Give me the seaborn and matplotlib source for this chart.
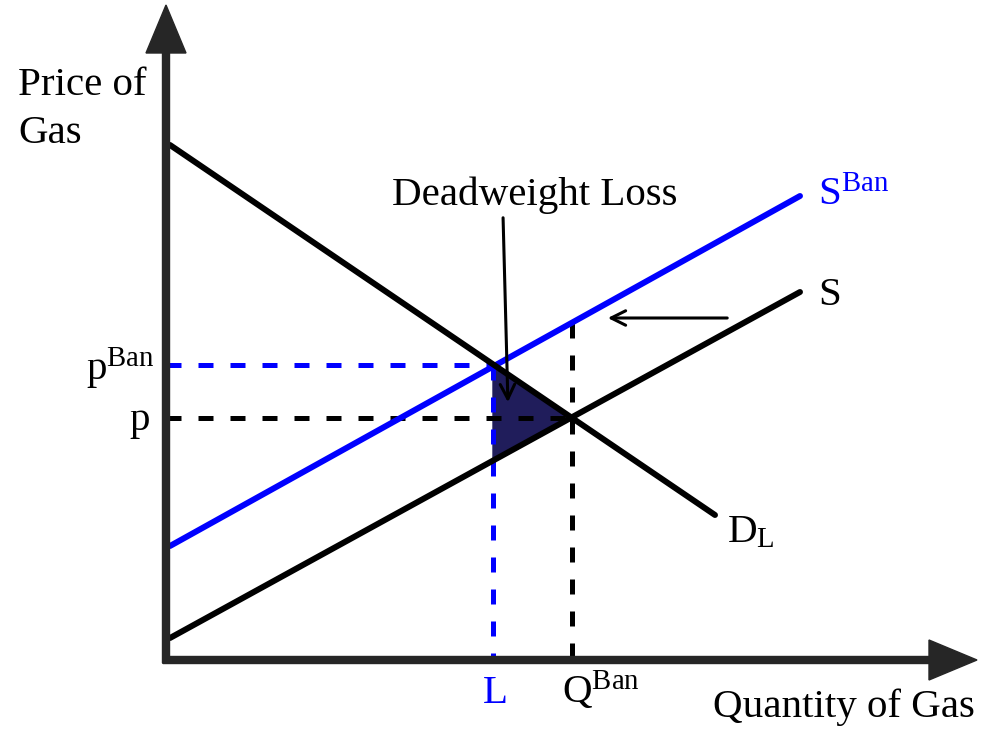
import seaborn as sns
import matplotlib.pyplot as plt
import pandas as pd

## curve end points (quantity, price) measured from the origin
x_demand = [4, 549]
y_demand = [515, 145]
x_supply = [4, 634]
y_supply = [22, 368]
x_supply_ban = [4, 634]
y_supply_ban = [114, 464]

## equilibrium values
q_L = 327
q_ban = 406
p_eq = 242
p_ban = 295
p_low = 200   # supply price at L (bottom of the triangle)
p_ban_at_q = 337  # shifted supply price at Q^Ban

## axis extents
x_max = 811
y_max = 655

sns.set_theme(style='white')
plt.rcParams['font.family'] = ['Liberation Serif', 'DejaVu Serif']
plt.rcParams['mathtext.fontset'] = 'custom'
plt.rcParams['mathtext.rm'] = 'Liberation Serif'
plt.rcParams['mathtext.it'] = 'Liberation Serif'
plt.rcParams['text.color'] = 'black'

fig = plt.figure(figsize=(10, 7.29), dpi=100)
ax = fig.add_axes([0, 0, 1, 1])
ax.set_xlim(-166, 834)
ax.set_ylim(-69, 660)
ax.axis('off')

axis_col = '#262626'
blue = '#0000ff'

## dead weight loss triangle
ax.fill([q_L, q_L, q_ban], [p_ban, p_low, p_eq], color='#201d5b', zorder=1)

## dashed guides
ax.plot([0, q_L], [p_ban, p_ban], color=blue, lw=3.6, dashes=(3, 3.4), zorder=2)
ax.plot([q_L, q_L], [p_ban, 0], color=blue, lw=3.6, dashes=(3, 3.4), zorder=2)
ax.plot([0, q_ban], [p_eq, p_eq], color='black', lw=3.6, dashes=(3, 3.4), zorder=2)
ax.plot([q_ban, q_ban], [p_ban_at_q, 0], color='black', lw=3.6, dashes=(3, 3.4), zorder=2)

## curves
df_d = pd.DataFrame({'q': x_demand, 'p': y_demand})
df_s = pd.DataFrame({'q': x_supply, 'p': y_supply})
df_sb = pd.DataFrame({'q': x_supply_ban, 'p': y_supply_ban})
sns.lineplot(data=df_sb, x='q', y='p', ax=ax, color=blue, lw=4.3, zorder=3)
sns.lineplot(data=df_s, x='q', y='p', ax=ax, color='black', lw=4.3, zorder=3)
sns.lineplot(data=df_d, x='q', y='p', ax=ax, color='black', lw=4.3, zorder=3)

## axes with arrow heads
ax.arrow(0, -3, 0, y_max + 3, width=7, head_width=40, head_length=48,
         length_includes_head=True, color=axis_col, zorder=5)
ax.arrow(-3, 0, x_max + 3, 0, width=7, head_width=40, head_length=48,
         length_includes_head=True, color=axis_col, zorder=5)

## shift arrow and dwl pointer
ax.annotate('', xy=(439, 342), xytext=(564, 342),
            arrowprops=dict(arrowstyle='->', lw=2.2, color='black', mutation_scale=26))
ax.annotate('', xy=(342, 255), xytext=(337, 445),
            arrowprops=dict(arrowstyle='->', lw=2.2, color='black', mutation_scale=26))

fs = 29.5
ax.text(-148, 565, 'Price of', fontsize=fs, ha='left', va='baseline')
ax.text(-148, 517, 'Gas', fontsize=fs, ha='left', va='baseline')
ax.text(-11, 280, r'$\mathrm{p}^{\mathrm{Ban}}$', fontsize=fs, ha='right', va='baseline')
ax.text(-16, 230, 'p', fontsize=fs, ha='right', va='baseline')
ax.text(q_L + 2, -43, 'L', fontsize=fs, ha='center', va='baseline', color=blue)
ax.text(396, -43, r'$\mathrm{Q}^{\mathrm{Ban}}$', fontsize=fs, ha='left', va='baseline')
ax.text(809, -57, 'Quantity of Gas', fontsize=fs, ha='right', va='baseline')
ax.text(226, 455, 'Deadweight Loss', fontsize=fs, ha='left', va='baseline')
ax.text(652, 455, r'$\mathrm{S}^{\mathrm{Ban}}$', fontsize=fs, ha='left', va='baseline', color=blue)
ax.text(652, 355, 'S', fontsize=fs, ha='left', va='baseline')
ax.text(561, 118, r'$\mathrm{D}_{\mathrm{L}}$', fontsize=fs, ha='left', va='baseline')

fig.savefig('out.png', dpi=100)
